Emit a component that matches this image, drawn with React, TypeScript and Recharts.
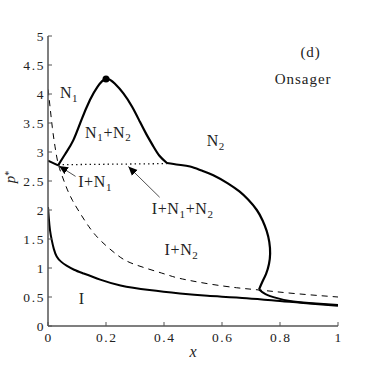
import React from "react";
import { LineChart, Line, XAxis, YAxis, ReferenceDot } from "recharts";

// ---------- data ----------
const xTicks = [0, 0.2, 0.4, 0.6, 0.8, 1];
const yTicks = [0, 0.5, 1, 1.5, 2, 2.5, 3, 3.5, 4, 4.5, 5];

// I / I+N boundary (lower solid curve)
const iBoundX = [0.0, 0.003, 0.007, 0.013, 0.02, 0.03, 0.045, 0.064, 0.09, 0.12, 0.18, 0.25, 0.35, 0.455, 0.55, 0.685, 0.8, 0.9, 1.0];
const iBoundY = [2.05, 1.85, 1.65, 1.48, 1.33, 1.2, 1.11, 1.04, 0.97, 0.91, 0.8, 0.7, 0.62, 0.56, 0.52, 0.48, 0.43, 0.39, 0.35];

// dashed curve
const dashX = [0.0, 0.007, 0.015, 0.024, 0.035, 0.05, 0.066, 0.085, 0.11, 0.14, 0.18, 0.24, 0.3, 0.4, 0.455, 0.55, 0.65, 0.73, 0.85, 1.0];
const dashY = [4.08, 3.78, 3.42, 3.1, 2.8, 2.57, 2.36, 2.16, 1.95, 1.72, 1.48, 1.22, 1.06, 0.9, 0.82, 0.73, 0.66, 0.62, 0.56, 0.5];

// short solid piece on the left edge
const edgeX = [0.0, 0.035];
const edgeY = [2.85, 2.77];

// N1+N2 dome
const domeX = [0.035, 0.06, 0.087, 0.115, 0.145, 0.17, 0.2, 0.23, 0.26, 0.29, 0.317, 0.34, 0.363, 0.385, 0.41];
const domeY = [2.77, 2.97, 3.2, 3.55, 3.9, 4.12, 4.26, 4.18, 4.01, 3.78, 3.52, 3.3, 3.1, 2.93, 2.81];

// N2 loop
const loopX = [0.41, 0.45, 0.49, 0.53, 0.57, 0.62, 0.66, 0.69, 0.72, 0.74, 0.754, 0.763, 0.766, 0.762, 0.752, 0.738, 0.728];
const loopY = [2.81, 2.78, 2.75, 2.68, 2.6, 2.46, 2.32, 2.18, 2.0, 1.82, 1.64, 1.45, 1.25, 1.07, 0.9, 0.75, 0.63];

// tail of loop
const tailX = [0.728, 0.75, 0.79, 0.834, 0.9, 1.0];
const tailY = [0.63, 0.55, 0.48, 0.43, 0.395, 0.36];

// dotted three-phase line
const triX = [0.035, 0.41];
const triY = [2.78, 2.8];

// arrows
const arrow1X = [0.095, 0.038];
const arrow1Y = [2.58, 2.76];
const arrow2X = [0.385, 0.277];
const arrow2Y = [2.22, 2.75];

// critical point
const peakX = 0.2;
const peakY = 4.26;

// region labels ("_" marks a one-character subscript)
const labelText = ["N_1", "N_1+N_2", "N_2", "I+N_1", "I+N_1+N_2", "I+N_2", "I", "(d)", "Onsager"];
const labelX = [0.041, 0.128, 0.547, 0.104, 0.358, 0.402, 0.116, 0.941, 0.978];
const labelY = [3.93, 3.25, 3.1, 2.39, 1.93, 1.22, 0.38, 4.64, 4.17];
const labelAnchor = ["start", "start", "start", "start", "start", "start", "middle", "end", "end"];

const zip = (xs: number[], ys: number[]) => xs.map((x, i) => ({ x, y: ys[i] }));

// ---------- styles ----------
const FONT = "Liberation Serif";
const AXIS = "#555";
const INK = "#000";
const TXT = "#222";

const fmt = (v: number) => String(v);

const tickStyle: React.CSSProperties = { fontFamily: FONT, fontSize: 13.5, letterSpacing: 1.6 };

const BottomTick = (p: any) => (
  <g>
    <line x1={p.x} y1={p.y} x2={p.x} y2={p.y - 4} stroke={AXIS} strokeWidth={1} />
    <text x={p.x + 0.8} y={p.y + 16} textAnchor="middle" style={tickStyle} fill={TXT}>
      {fmt(p.payload.value)}
    </text>
  </g>
);
const TopTick = (p: any) => (
  <line x1={p.x} y1={p.y} x2={p.x} y2={p.y + 4} stroke={AXIS} strokeWidth={1} />
);
const LeftTick = (p: any) => (
  <g>
    <line x1={p.x} y1={p.y} x2={p.x + 4} y2={p.y} stroke={AXIS} strokeWidth={1} />
    <text x={p.x - 3} y={p.y + 4.5} textAnchor="end" style={tickStyle} fill={TXT}>
      {fmt(p.payload.value)}
    </text>
  </g>
);
const RightTick = (p: any) => (
  <line x1={p.x} y1={p.y} x2={p.x - 4} y2={p.y} stroke={AXIS} strokeWidth={1} />
);

const renderRich = (s: string) => {
  const parts: React.ReactNode[] = [];
  let i = 0;
  let k = 0;
  let sub = false;
  while (i < s.length) {
    if (s[i] === "_") {
      parts.push(
        <tspan key={k++} dy={3.5} style={{ fontSize: 11 }}>
          {s[i + 1]}
        </tspan>
      );
      sub = true;
      i += 2;
    } else {
      let j = i;
      while (j < s.length && s[j] !== "_") j++;
      parts.push(
        <tspan key={k++} dy={sub ? -3.5 : 0}>
          {s.slice(i, j)}
        </tspan>
      );
      sub = false;
      i = j;
    }
  }
  return parts;
};

const makeLabel = (idx: number) => (p: any) => (
  <text
    x={p.cx}
    y={p.cy}
    textAnchor={labelAnchor[idx] as any}
    style={{ fontFamily: FONT, fontSize: idx >= 7 ? 15 : 16, letterSpacing: idx >= 7 ? 1 : 0.6 }}
    fill={TXT}
  >
    {renderRich(labelText[idx])}
  </text>
);

export default function App() {
  return (
    <div style={{ position: "absolute", left: 0, top: 0 }}>
      <LineChart width={374} height={376} margin={{ top: 36, right: 36, bottom: 20, left: 18 }}>
        <defs>
          <marker id="ah" viewBox="0 0 10 10" refX="10" refY="5" markerWidth="9" markerHeight="9" orient="auto" markerUnits="userSpaceOnUse">
            <path d="M0,0.5 L10,5 L0,9.5 z" fill="#000" />
          </marker>
        </defs>
        <XAxis
          xAxisId={0}
          type="number"
          dataKey="x"
          domain={[0, 1]}
          ticks={xTicks}
          interval={0}
          allowDataOverflow
          height={30}
          tickSize={0}
          tickMargin={0}
          tickLine={false}
          tick={BottomTick}
          axisLine={{ stroke: AXIS, strokeWidth: 1.5 }}
          label={{
            content: (props: any) => {
              const vb = props.viewBox;
              return (
                <text x={vb.x + vb.width / 2} y={vb.y + 30.5} textAnchor="middle" style={{ fontFamily: FONT, fontStyle: "italic", fontSize: 16 }} fill={TXT}>
                  x
                </text>
              );
            },
          }}
        />
        <XAxis
          xAxisId="top"
          orientation="top"
          type="number"
          dataKey="x"
          domain={[0, 1]}
          ticks={xTicks}
          interval={0}
          allowDataOverflow
          height={0}
          tickSize={0}
          tickMargin={0}
          tickLine={false}
          tick={TopTick}
          axisLine={{ stroke: AXIS, strokeWidth: 1.5 }}
        />
        <YAxis
          yAxisId={0}
          type="number"
          domain={[0, 5]}
          ticks={yTicks}
          interval={0}
          allowDataOverflow
          width={30}
          tickSize={0}
          tickMargin={0}
          tickLine={false}
          tick={LeftTick}
          axisLine={{ stroke: AXIS, strokeWidth: 1.5 }}
          label={{
            content: (props: any) => {
              const vb = props.viewBox;
              const cx = 15;
              const cy = vb.y + vb.height / 2 - 4;
              return (
                <text x={cx} y={cy} transform={`rotate(-90 ${cx} ${cy})`} textAnchor="middle" style={{ fontFamily: FONT, fontSize: 15 }} fill={TXT}>
                  <tspan style={{ fontStyle: "italic" }}>p</tspan>
                  <tspan dy={-3} style={{ fontSize: 10 }}>*</tspan>
                </text>
              );
            },
          }}
        />
        <YAxis
          yAxisId="right"
          orientation="right"
          type="number"
          domain={[0, 5]}
          ticks={yTicks}
          interval={0}
          allowDataOverflow
          width={0}
          tickSize={0}
          tickMargin={0}
          tickLine={false}
          tick={RightTick}
          axisLine={{ stroke: AXIS, strokeWidth: 1.5 }}
        />

        <Line data={zip(dashX, dashY)} dataKey="y" type="natural" stroke={INK} strokeWidth={1} strokeDasharray="6 5" dot={false} isAnimationActive={false} />
        <Line data={zip(triX, triY)} dataKey="y" type="linear" stroke={INK} strokeWidth={1.3} strokeDasharray="1.3 3.2" dot={false} isAnimationActive={false} />
        <Line data={zip(iBoundX, iBoundY)} dataKey="y" type="natural" stroke={INK} strokeWidth={2} dot={false} isAnimationActive={false} />
        <Line data={zip(edgeX, edgeY)} dataKey="y" type="linear" stroke={INK} strokeWidth={2} dot={false} isAnimationActive={false} />
        <Line data={zip(domeX, domeY)} dataKey="y" type="natural" stroke={INK} strokeWidth={2.2} dot={false} isAnimationActive={false} />
        <Line data={zip(loopX, loopY)} dataKey="y" type="natural" stroke={INK} strokeWidth={2.2} dot={false} isAnimationActive={false} />
        <Line data={zip(tailX, tailY)} dataKey="y" type="natural" stroke={INK} strokeWidth={2} dot={false} isAnimationActive={false} />
        <Line data={zip(arrow1X, arrow1Y)} dataKey="y" type="linear" stroke="#222" strokeWidth={0.8} markerEnd="url(#ah)" dot={false} isAnimationActive={false} />
        <Line data={zip(arrow2X, arrow2Y)} dataKey="y" type="linear" stroke="#222" strokeWidth={0.8} markerEnd="url(#ah)" dot={false} isAnimationActive={false} />

        <ReferenceDot x={peakX} y={peakY} r={3.5} fill={INK} stroke="none" isFront />
        {labelText.map((_, i) => (
          <ReferenceDot key={i} x={labelX[i]} y={labelY[i]} r={0} shape={makeLabel(i)} ifOverflow="visible" />
        ))}
      </LineChart>
    </div>
  );
}
